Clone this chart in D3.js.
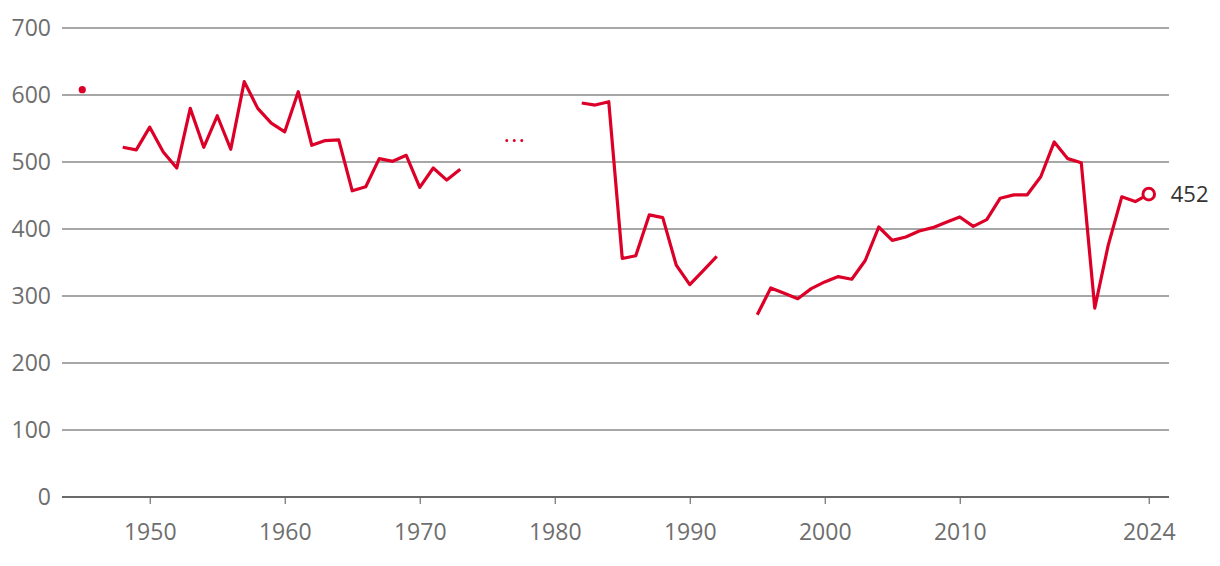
<!DOCTYPE html>
<html>
<head>
<meta charset="utf-8">
<script src="https://cdn.jsdelivr.net/npm/d3@7"></script>
<style>
  body { margin: 0; background: #fff; }
  svg { font-family: "Open Sans", sans-serif; }
</style>
</head>
<body>
<div id="chart"></div>
<script>
// yearly values, null = no data
const years = d3.range(1945, 2025);
const values = [
  608, null, null,
  522, 518, 552, 515, 491, 580, 522, 569, 519, 620, 580, 558, 545, 605, 525, 532, 533,
  457, 463, 505, 501, 510, 462, 491, 473, 489,
  null, null, null,
  532,
  null, null, null, null,
  588, 585, 590, 356, 360, 421, 417, 346, 317, 338, 359,
  null, null,
  272, 312, 304, 296, 311, 321, 329, 325, 353, 403, 383, 388, 397, 402, 410, 418,
  404, 414, 446, 451, 451, 478, 530, 505, 499, 282, 376, 448, 441, 452
];
// years that are shown as a dotted estimate
const dottedYears = [1977];
const yTicks = [0, 100, 200, 300, 400, 500, 600, 700];
const xTicks = [1950, 1960, 1970, 1980, 1990, 2000, 2010, 2024];

const w = 1220, h = 566;
const red = '#dc0028';
const data = years.map((y, i) => ({ year: y, value: values[i] }));

const svg = d3.select('#chart').append('svg')
  .attr('width', w)
  .attr('height', h);

const x = d3.scaleLinear().domain([1943.5, 2025.5]).range([62, 1169]);
const y = d3.scaleLinear().domain([0, 700]).range([497, 28]);

// gridlines
svg.append('g')
  .selectAll('line')
  .data(yTicks.filter(d => d > 0))
  .enter()
  .append('line')
  .attr('x1', 62).attr('x2', 1169)
  .attr('y1', d => y(d)).attr('y2', d => y(d))
  .attr('stroke', '#8a8a8a')
  .attr('stroke-width', 1.5);

// y labels
svg.append('g')
  .selectAll('text')
  .data(yTicks)
  .enter()
  .append('text')
  .attr('x', 51)
  .attr('y', d => y(d))
  .attr('dy', '0.35em')
  .attr('text-anchor', 'end')
  .attr('fill', '#6e6e6e')
  .style('font-size', '23px')
  .text(d => d);

// x axis
const xAxis = svg.append('g')
  .attr('transform', 'translate(0,' + y(0) + ')')
  .call(d3.axisBottom(x).tickValues(xTicks).tickFormat(d3.format('d')).tickSize(7).tickPadding(20));
xAxis.select('.domain').remove();
xAxis.selectAll('.tick line').attr('stroke', '#707070').attr('stroke-width', 1.2);
xAxis.selectAll('.tick text')
  .attr('fill', '#6e6e6e')
  .style('font-size', '23px')
  .style('font-family', '"Open Sans", sans-serif');
svg.append('line')
  .attr('x1', 62).attr('x2', 1169)
  .attr('y1', y(0)).attr('y2', y(0))
  .attr('stroke', '#6a6a6a')
  .attr('stroke-width', 2.2);

// main line
const solid = data.map(d => (d.value == null || dottedYears.includes(d.year)) ? null : d);
const line = d3.line()
  .defined(d => d != null)
  .x(d => x(d.year))
  .y(d => y(d.value));

svg.append('path')
  .datum(solid)
  .attr('d', line)
  .attr('fill', 'none')
  .attr('stroke', red)
  .attr('stroke-width', 3.2)
  .attr('stroke-linejoin', 'round');

// isolated points drawn as dots
const lone = solid.filter((d, i) => d != null && solid[i - 1] == null && solid[i + 1] == null);
svg.append('g')
  .selectAll('circle')
  .data(lone)
  .enter()
  .append('circle')
  .attr('cx', d => x(d.year))
  .attr('cy', d => y(d.value))
  .attr('r', 3.6)
  .attr('fill', red);

// dotted estimates
const dotted = data.filter(d => dottedYears.includes(d.year));
svg.append('g')
  .selectAll('line')
  .data(dotted)
  .enter()
  .append('line')
  .attr('x1', d => x(d.year) - 7.5)
  .attr('x2', d => x(d.year) + 7.6)
  .attr('y1', d => y(d.value))
  .attr('y2', d => y(d.value))
  .attr('stroke', red)
  .attr('stroke-width', 3)
  .attr('stroke-linecap', 'round')
  .attr('stroke-dasharray', '0,7.5');

// last value marker
const last = data[data.length - 1];
svg.append('circle')
  .attr('cx', x(last.year))
  .attr('cy', y(last.value))
  .attr('r', 5.8)
  .attr('fill', '#fff')
  .attr('stroke', red)
  .attr('stroke-width', 3);

svg.append('text')
  .attr('x', x(last.year) + 22)
  .attr('y', y(last.value))
  .attr('dy', '0.35em')
  .attr('fill', '#333')
  .style('font-size', '22px')
  .text(last.value);
</script>
</body>
</html>
